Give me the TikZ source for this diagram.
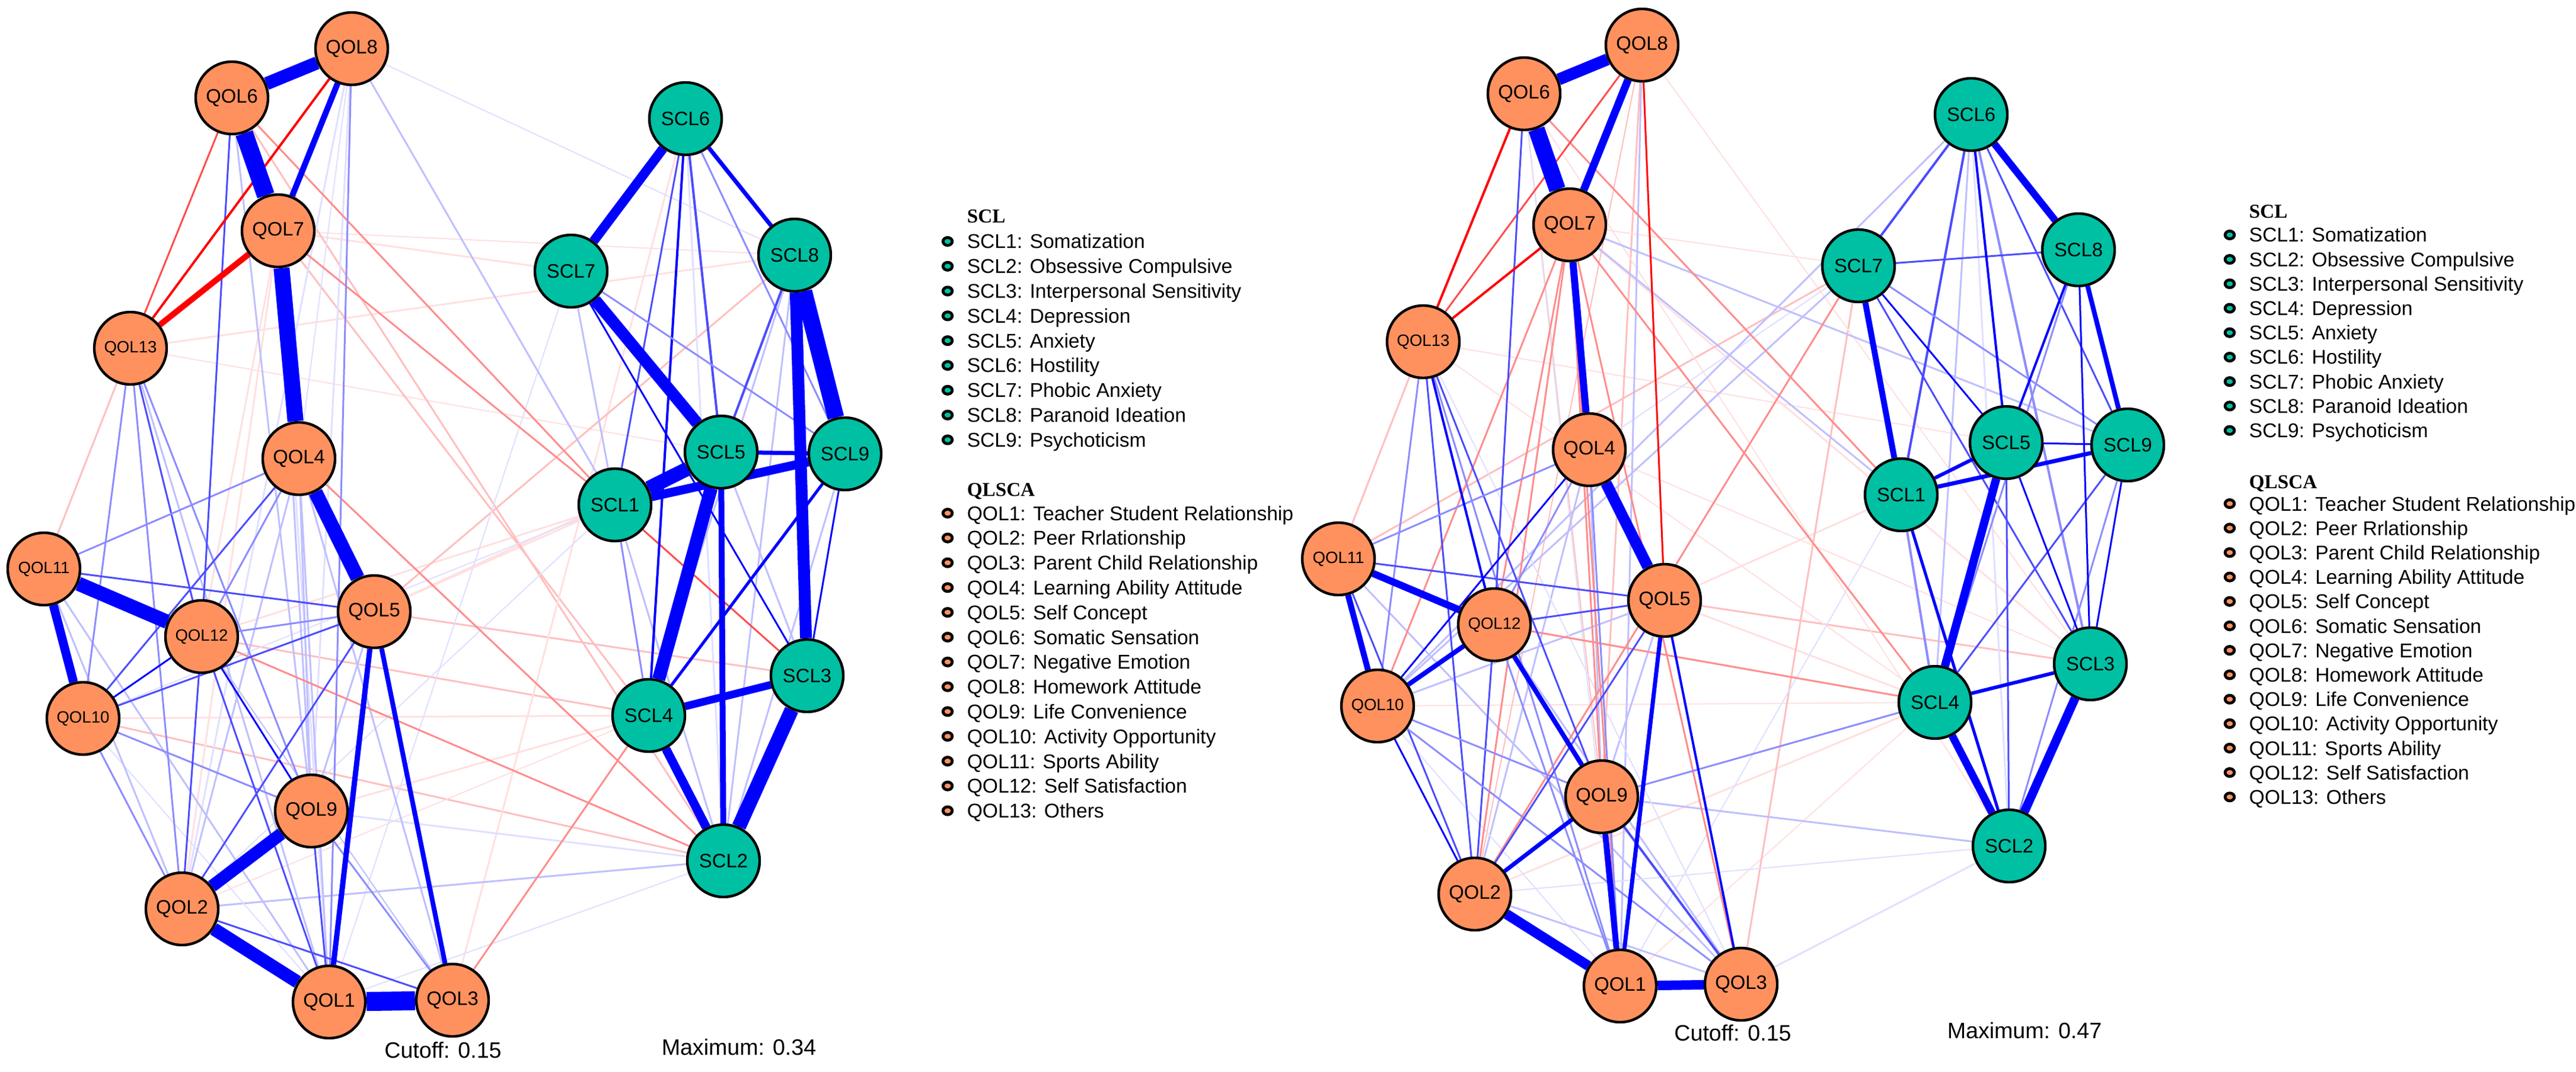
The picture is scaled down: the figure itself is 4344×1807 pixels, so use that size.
\documentclass[tikz,border=0pt]{standalone}
\usepackage{fontspec}
\setmainfont{Liberation Sans}
\newfontfamily\legtitlefont{Liberation Serif}
\usetikzlibrary{backgrounds,shapes.geometric}
\definecolor{qolc}{RGB}{255,145,95}
\definecolor{sclc}{RGB}{0,192,163}
\colorlet{b1}{blue!12!white}
\colorlet{b2}{blue!25!white}
\colorlet{b3}{blue!45!white}
\colorlet{b4}{blue!70!white}
\colorlet{b5}{blue}
\colorlet{r1}{red!12!white}
\colorlet{r2}{red!25!white}
\colorlet{r3}{red!45!white}
\colorlet{r4}{red!70!white}
\colorlet{r5}{red}
\newcommand\edg[4]{\draw[line width={#4*0.25pt},#3] (#1) -- (#2);}
\newcommand\ledg[4]{\edg{a#1}{a#2}{#3}{#4}}
\newcommand\redg[4]{\edg{b#1}{b#2}{#3}{#4}}
\newcommand\drawlegend[8]{%
  \node[legtitle] (#1ta) at (#3,#4) {SCL};
  \foreach \t [count=\i] in {SCL1: Somatization,SCL2: Obsessive Compulsive,SCL3: Interpersonal Sensitivity,SCL4: Depression,SCL5: Anxiety,SCL6: Hostility,SCL7: Phobic Anxiety,SCL8: Paranoid Ideation,SCL9: Psychoticism}{
    \node[sdot] (#1s\i) at (#2,{#5+#8*(\i-1)}) {};
    \node[legtext] (#1x\i) at (#3,{#5+#8*(\i-1)+12}) {\t};
  }
  \node[legtitle] (#1tb) at (#3,#6) {QLSCA};
  \foreach \t [count=\i] in {QOL1: Teacher Student Relationship,QOL2: Peer Rrlationship,QOL3: Parent Child Relationship,QOL4: Learning Ability Attitude,QOL5: Self Concept,QOL6: Somatic Sensation,QOL7: Negative Emotion,QOL8: Homework Attitude,QOL9: Life Convenience,QOL10: Activity Opportunity,QOL11: Sports Ability,QOL12: Self Satisfaction,QOL13: Others}{
    \node[qdot] (#1q\i) at (#2,{#7+#8*(\i-1)}) {};
    \node[legtext] (#1y\i) at (#3,{#7+#8*(\i-1)+12}) {\t};
  }
}
\begin{document}
\begin{tikzpicture}[x=0.25pt,y=-0.25pt,
  qn/.style={circle,draw=black,line width=1.1pt,fill=qolc,minimum size=30.5pt,inner sep=0pt,font=\fontsize{8.2}{9}\selectfont},
  qs/.style={qn,font=\fontsize{6.9}{8}\selectfont},
  sn/.style={qn,fill=sclc},
  sdot/.style={ellipse,draw=black,line width=1.2pt,fill=sclc,minimum width=3.9pt,minimum height=3.3pt,inner sep=0pt},
  qdot/.style={sdot,fill=qolc},
  legtext/.style={anchor=base west,inner sep=0pt,font=\fontsize{8.4}{10}\selectfont},
  legtitle/.style={anchor=base west,inner sep=0pt,font=\legtitlefont\bfseries\fontsize{8.3}{10}\selectfont},
  captxt/.style={inner sep=0pt,font=\fontsize{9.4}{11}\selectfont}]
\useasboundingbox (0,0) rectangle (4344,1807);
% ---------- left network nodes ----------
\node[qn] (aQ1) at (555,1689) {QOL1};
\node[qn] (aQ2) at (307,1532) {QOL2};
\node[qn] (aQ3) at (763,1686) {QOL3};
\node[qn] (aQ4) at (504,773) {QOL4};
\node[qn] (aQ5) at (631,1031) {QOL5};
\node[qn] (aQ6) at (391,165) {QOL6};
\node[qn] (aQ7) at (469,389) {QOL7};
\node[qn] (aQ8) at (593,82) {QOL8};
\node[qn] (aQ9) at (525,1367) {QOL9};
\node[qs] (aQ10) at (140,1211) {QOL10};
\node[qs] (aQ11) at (74,959) {QOL11};
\node[qs] (aQ12) at (340,1073) {QOL12};
\node[qs] (aQ13) at (220,587) {QOL13};
\node[sn] (aS1) at (1037,851) {SCL1};
\node[sn] (aS2) at (1220,1451) {SCL2};
\node[sn] (aS3) at (1361,1139) {SCL3};
\node[sn] (aS4) at (1094,1206) {SCL4};
\node[sn] (aS5) at (1216,762) {SCL5};
\node[sn] (aS6) at (1156,200) {SCL6};
\node[sn] (aS7) at (963,457) {SCL7};
\node[sn] (aS8) at (1340,430) {SCL8};
\node[sn] (aS9) at (1425,765) {SCL9};
% ---------- right network nodes ----------
\node[qn] (bQ1) at (2732,1662) {QOL1};
\node[qn] (bQ2) at (2487,1507) {QOL2};
\node[qn] (bQ3) at (2936,1659) {QOL3};
\node[qn] (bQ4) at (2680,758) {QOL4};
\node[qn] (bQ5) at (2807,1012) {QOL5};
\node[qn] (bQ6) at (2570,158) {QOL6};
\node[qn] (bQ7) at (2647,379) {QOL7};
\node[qn] (bQ8) at (2769,76) {QOL8};
\node[qn] (bQ9) at (2701,1343) {QOL9};
\node[qs] (bQ10) at (2323,1190) {QOL10};
\node[qs] (bQ11) at (2257,942) {QOL11};
\node[qs] (bQ12) at (2520,1053) {QOL12};
\node[qs] (bQ13) at (2400,576) {QOL13};
\node[sn] (bS1) at (3206,834) {SCL1};
\node[sn] (bS2) at (3388,1426) {SCL2};
\node[sn] (bS3) at (3525,1119) {SCL3};
\node[sn] (bS4) at (3263,1184) {SCL4};
\node[sn] (bS5) at (3383,746) {SCL5};
\node[sn] (bS6) at (3324,193) {SCL6};
\node[sn] (bS7) at (3134,448) {SCL7};
\node[sn] (bS8) at (3505,421) {SCL8};
\node[sn] (bS9) at (3588,750) {SCL9};
% ---------- captions ----------
\node[captxt] (aCut) at (747,1770) {Cutoff: 0.15};
\node[captxt] (aMax) at (1246,1765) {Maximum: 0.34};
\node[captxt] (bCut) at (2922,1741) {Cutoff: 0.15};
\node[captxt] (bMax) at (3414,1737) {Maximum: 0.47};
% ---------- legends ----------
\drawlegend{lA}{1598}{1630}{376}{407}{836}{865}{41.8}
\drawlegend{lB}{3760}{3792}{368}{396}{823}{849}{41.2}
% ---------- edges ----------
\begin{pgfonlayer}{background}
\fill[white] (0,0) rectangle (4344,1807);
% left faint
\ledg{Q13}{S8}{r1}{3}
\ledg{Q7}{S7}{r1}{3}
\ledg{Q7}{S8}{r1}{2}
\ledg{Q5}{S3}{r2}{3}
\ledg{Q5}{S5}{r1}{3}
\ledg{Q5}{S1}{r1}{3}
\ledg{Q12}{S1}{r1}{3}
\ledg{Q12}{S4}{r2}{3}
\ledg{Q10}{S4}{r1}{3}
\ledg{Q10}{S2}{r2}{3}
\ledg{Q13}{S5}{r1}{2}
\ledg{Q7}{Q2}{r1}{3}
\ledg{Q7}{Q12}{r1}{3}
\ledg{Q11}{Q13}{r2}{3}
\ledg{Q6}{S2}{r2}{3}
\ledg{Q7}{S4}{r2}{3}
\ledg{Q9}{S4}{r1}{3}
\ledg{Q2}{S4}{r1}{2}
\ledg{S6}{Q3}{r1}{3}
\ledg{Q5}{S8}{r2}{3}
\ledg{Q1}{S2}{b1}{2}
\ledg{S7}{Q1}{b1}{2}
\ledg{Q10}{S1}{b1}{2}
\ledg{Q2}{S1}{b1}{2}
\ledg{Q9}{S2}{b1}{3}
\ledg{Q2}{S2}{b2}{3}
\ledg{Q8}{S8}{b1}{2}
\ledg{Q8}{S1}{b2}{3}
\ledg{Q8}{Q9}{b1}{3}
\ledg{Q8}{Q2}{b1}{3}
\ledg{Q8}{Q4}{b1}{2}
\ledg{Q6}{Q9}{b2}{3}
\ledg{Q7}{Q9}{b2}{3}
\ledg{Q7}{Q1}{b1}{3}
\ledg{Q10}{Q1}{b1}{2}
\ledg{Q12}{Q3}{b2}{2}
\ledg{Q4}{Q9}{b2}{3}
\ledg{Q4}{Q1}{b2}{3}
\ledg{Q4}{Q2}{b2}{3}
\ledg{Q4}{Q3}{b2}{3}
\ledg{Q11}{Q2}{b2}{3}
\ledg{Q11}{Q1}{b2}{3}
\ledg{Q13}{Q1}{b2}{3}
\ledg{Q5}{Q9}{b2}{3}
\ledg{S6}{S2}{b1}{3}
\ledg{S5}{S3}{b2}{3}
\ledg{S8}{S4}{b2}{3}
\ledg{S8}{S2}{b2}{3}
\ledg{S9}{S2}{b2}{3}
\ledg{S1}{S2}{b2}{3}
\ledg{S7}{S1}{b2}{3}
% left medium
\ledg{Q6}{S1}{r3}{3}
\ledg{Q7}{S1}{r3}{3}
\ledg{Q4}{S2}{r3}{3}
\ledg{Q3}{S4}{r3}{3}
\ledg{Q12}{S2}{r3}{3}
\ledg{S1}{S3}{r4}{3}
\ledg{Q6}{Q13}{r4}{3}
\ledg{Q13}{Q10}{b3}{3}
\ledg{Q13}{Q2}{b3}{3}
\ledg{Q13}{Q9}{b3}{3}
\ledg{Q13}{Q12}{b4}{3}
\ledg{Q4}{Q11}{b3}{3}
\ledg{Q4}{Q12}{b3}{3}
\ledg{Q4}{Q10}{b4}{3}
\ledg{Q8}{Q1}{b3}{3}
\ledg{Q6}{Q12}{b4}{3}
\ledg{Q11}{Q5}{b4}{3}
\ledg{Q12}{Q5}{b3}{3}
\ledg{Q12}{Q10}{b5}{3}
\ledg{Q10}{Q5}{b4}{3}
\ledg{Q10}{Q9}{b3}{3}
\ledg{Q10}{Q2}{b3}{3}
\ledg{Q12}{Q9}{b5}{3}
\ledg{Q12}{Q2}{b4}{3}
\ledg{Q12}{Q1}{b4}{3}
\ledg{Q5}{Q2}{b4}{3}
\ledg{Q9}{Q1}{b4}{3}
\ledg{Q9}{Q3}{b3}{3}
\ledg{Q2}{Q3}{b4}{3}
\ledg{S6}{S1}{b4}{3}
\ledg{S6}{S5}{b4}{4}
\ledg{S6}{S4}{b5}{4}
\ledg{S6}{S9}{b3}{3}
\ledg{S7}{S3}{b5}{3}
\ledg{S7}{S9}{b3}{3}
\ledg{S8}{S5}{b4}{4}
\ledg{S9}{S4}{b5}{5}
\ledg{S9}{S3}{b5}{3}
\ledg{S1}{S4}{b3}{3}
% left strong
\ledg{Q8}{Q13}{r5}{4}
\ledg{Q7}{Q13}{r5}{10}
\ledg{Q5}{Q1}{b5}{9}
\ledg{Q5}{Q3}{b5}{8}
\ledg{Q8}{Q7}{b5}{10}
\ledg{Q11}{Q10}{b5}{15}
\ledg{Q9}{Q2}{b5}{21}
\ledg{Q11}{Q12}{b5}{24}
\ledg{Q2}{Q1}{b5}{22}
\ledg{Q4}{Q5}{b5}{24}
\ledg{Q6}{Q8}{b5}{22}
\ledg{Q7}{Q4}{b5}{27}
\ledg{Q6}{Q7}{b5}{30}
\ledg{Q1}{Q3}{b5}{32}
\ledg{S6}{S8}{b5}{7}
\ledg{S5}{S9}{b5}{7}
\ledg{S5}{S2}{b5}{10}
\ledg{S4}{S3}{b5}{13}
\ledg{S4}{S2}{b5}{15}
\ledg{S1}{S9}{b5}{15}
\ledg{S6}{S7}{b5}{16}
\ledg{S7}{S5}{b5}{20}
\ledg{S5}{S4}{b5}{22}
\ledg{S8}{S3}{b5}{20}
\ledg{S1}{S5}{b5}{24}
\ledg{S3}{S2}{b5}{24}
\ledg{S8}{S9}{b5}{28}
% right faint
\redg{Q13}{S5}{r1}{2}
\redg{Q7}{S3}{r1}{3}
\redg{Q5}{S3}{r2}{3}
\redg{Q5}{S4}{r1}{3}
\redg{Q5}{S1}{r1}{3}
\redg{Q2}{S4}{r1}{3}
\redg{Q1}{S4}{r1}{2}
\redg{Q10}{S4}{r1}{2}
\redg{Q13}{S4}{r1}{2}
\redg{Q4}{S3}{r1}{2}
\redg{Q3}{S7}{r2}{3}
\redg{Q13}{Q11}{r2}{3}
\redg{Q8}{Q9}{r2}{3}
\redg{Q8}{Q2}{r2}{2}
\redg{Q6}{Q9}{r2}{2}
\redg{Q8}{S3}{r1}{2}
\redg{Q7}{S7}{r1}{2}
\redg{S7}{Q11}{r2}{3}
\redg{Q6}{S2}{r1}{2}
\redg{Q3}{S2}{b1}{3}
\redg{Q1}{S1}{b1}{2}
\redg{Q4}{S7}{b1}{2}
\redg{Q6}{Q1}{b1}{2}
\redg{Q8}{Q1}{b2}{3}
\redg{Q4}{Q9}{b2}{3}
\redg{Q4}{Q2}{b2}{3}
\redg{Q10}{Q1}{b1}{2}
\redg{Q12}{Q3}{b2}{3}
\redg{Q11}{Q3}{b2}{3}
\redg{Q2}{Q3}{b2}{3}
\redg{Q10}{Q5}{b2}{3}
\redg{Q5}{Q9}{b2}{3}
\redg{Q7}{S1}{b2}{3}
\redg{Q7}{S9}{b2}{3}
\redg{S6}{Q10}{b2}{3}
\redg{S7}{Q10}{b2}{3}
\redg{Q9}{S2}{b2}{3}
\redg{Q2}{S2}{b1}{2}
\redg{S6}{S4}{b2}{3}
\redg{S6}{S2}{b1}{3}
\redg{Q13}{Q3}{b1}{2}
% right medium
\redg{Q6}{S1}{r3}{3}
\redg{Q7}{S4}{r3}{3}
\redg{Q12}{S4}{r3}{3}
\redg{S7}{Q2}{r3}{3}
\redg{Q7}{Q2}{r3}{3}
\redg{Q7}{Q3}{r3}{3}
\redg{Q7}{Q1}{r3}{3}
\redg{Q7}{Q12}{r3}{3}
\redg{Q7}{Q10}{r3}{3}
\redg{Q7}{Q9}{r3}{3}
\redg{Q8}{Q13}{r4}{3}
\redg{Q9}{S4}{b3}{3}
\redg{Q13}{Q10}{b3}{3}
\redg{Q13}{Q2}{b4}{3}
\redg{Q13}{Q9}{b4}{3}
\redg{Q13}{Q1}{b3}{3}
\redg{Q4}{Q11}{b3}{3}
\redg{Q4}{Q12}{b3}{3}
\redg{Q4}{Q1}{b3}{3}
\redg{Q6}{Q12}{b4}{3}
\redg{Q11}{Q5}{b4}{3}
\redg{Q11}{Q2}{b4}{3}
\redg{Q12}{Q5}{b4}{3}
\redg{Q12}{Q2}{b4}{3}
\redg{Q12}{Q1}{b3}{3}
\redg{Q10}{Q9}{b3}{3}
\redg{Q10}{Q3}{b3}{3}
\redg{Q5}{Q2}{b4}{3}
\redg{Q9}{Q3}{b4}{4}
\redg{S6}{S7}{b4}{4}
\redg{S6}{S1}{b4}{4}
\redg{S6}{S9}{b4}{3}
\redg{S6}{S3}{b3}{4}
\redg{S7}{S8}{b4}{3}
\redg{S7}{S3}{b4}{3}
\redg{S7}{S9}{b3}{3}
\redg{S8}{S4}{b3}{3}
\redg{S1}{S4}{b3}{4}
\redg{S9}{S4}{b4}{3}
\redg{S5}{S2}{b4}{3}
\redg{S9}{S2}{b3}{3}
% right strong
\redg{Q6}{Q13}{r5}{4}
\redg{Q7}{Q13}{r5}{4}
\redg{Q8}{Q5}{r5}{3}
\redg{Q13}{Q12}{b5}{4}
\redg{Q4}{Q10}{b5}{3}
\redg{Q10}{Q2}{b5}{3}
\redg{Q12}{Q10}{b5}{8}
\redg{Q12}{Q9}{b5}{8}
\redg{Q5}{Q3}{b5}{4}
\redg{Q5}{Q1}{b5}{7}
\redg{Q9}{Q2}{b5}{7}
\redg{Q9}{Q1}{b5}{10}
\redg{Q11}{Q10}{b5}{10}
\redg{Q11}{Q12}{b5}{12}
\redg{Q7}{Q4}{b5}{12}
\redg{Q8}{Q7}{b5}{13}
\redg{Q1}{Q3}{b5}{16}
\redg{Q2}{Q1}{b5}{17}
\redg{Q4}{Q5}{b5}{19}
\redg{Q6}{Q8}{b5}{20}
\redg{Q6}{Q7}{b5}{28}
\redg{S7}{S5}{b5}{3}
\redg{S6}{S5}{b5}{4}
\redg{S8}{S5}{b5}{4}
\redg{S8}{S3}{b5}{3}
\redg{S5}{S9}{b5}{3}
\redg{S5}{S3}{b5}{3}
\redg{S9}{S3}{b5}{3}
\redg{S1}{S2}{b5}{5}
\redg{S1}{S5}{b5}{6}
\redg{S4}{S3}{b5}{6}
\redg{S1}{S9}{b5}{7}
\redg{S8}{S9}{b5}{8}
\redg{S7}{S1}{b5}{10}
\redg{S6}{S8}{b5}{12}
\redg{S5}{S4}{b5}{14}
\redg{S4}{S2}{b5}{13}
\redg{S3}{S2}{b5}{15}
\end{pgfonlayer}
\end{tikzpicture}
\end{document}
